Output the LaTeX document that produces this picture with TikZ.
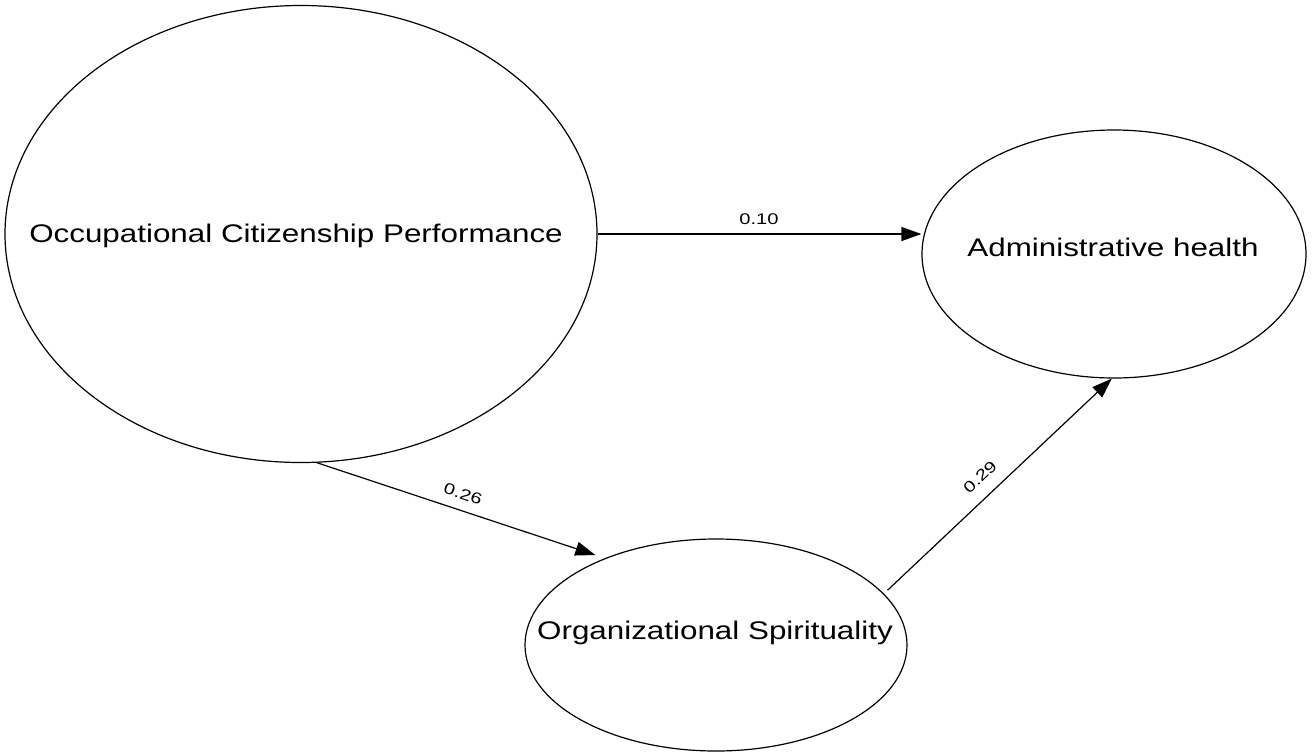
\documentclass[tikz,border=0pt]{standalone}
\usepackage{fontspec}
\usepackage{graphicx}
\setmainfont{Liberation Sans}
\usetikzlibrary{arrows.meta,shapes.geometric,calc}
\newcommand{\widetext}[1]{\scalebox{1.23}[1]{#1}}
\newcommand{\widelabel}[1]{\scalebox{1.3}[1]{#1}}
\tikzset{
  latent/.style={draw, line width=1.2pt, ellipse, inner sep=0pt},
  maintext/.style={inner sep=0pt, font=\fontsize{25.5}{30}\selectfont},
  coef/.style={inner sep=0pt, font=\fontsize{15.5}{18}\selectfont},
  path/.style={line width=1.2pt, -{Triangle[length=20pt,width=14pt]}}
}
\begin{document}
\begin{tikzpicture}[x=1pt,y=-1pt]
\useasboundingbox (0,0) rectangle (1312,753);
% ellipses
\node[latent, minimum width=592pt, minimum height=457pt] (ocp) at (301,234) {};
\node[latent, minimum width=384pt, minimum height=248pt] (adm) at (1114,254) {};
\node[latent, minimum width=382pt, minimum height=212pt] (org) at (716,645) {};
% texts
\node[maintext] (tocp) at (296,236) {\widetext{Occupational Citizenship Performance}};
\node[maintext] (tadm) at (1113,247) {\widetext{Administrative health}};
\node[maintext] (torg) at (715,633) {\widetext{Organizational Spirituality}};
% paths
\draw[path] (ocp.east) -- (ocp.east -| adm.west);
\draw[path, shorten >=10pt] (ocp.274.3) -- (org.142.8);
\draw[path, shorten <=5pt] (org.17.1) -- (adm.269.5);
% coefficients
\node[coef] (c1) at (759,219) {\widelabel{0.10}};
\node[coef, rotate=-18.6] (c2) at (463,494) {\widelabel{0.26}};
\node[coef, rotate=43.3] (c3) at (980,477) {\widelabel{0.29}};
\end{tikzpicture}
\end{document}
